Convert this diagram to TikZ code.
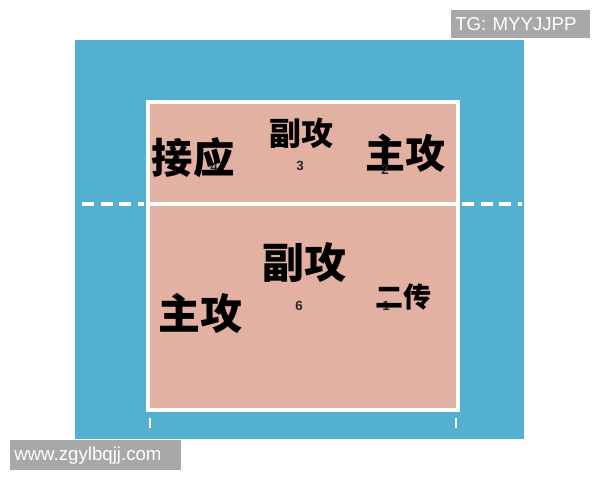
\documentclass[tikz,border=0pt]{standalone}
\usepackage{fontspec}
\setmainfont{Liberation Sans}
\newfontfamily\cjk{Noto Sans CJK SC}
\usetikzlibrary{positioning}
\definecolor{sea}{HTML}{54B0D1}
\definecolor{court}{HTML}{E3B1A1}
\definecolor{tag}{HTML}{A8A8A8}

\begin{document}
\begin{tikzpicture}[x=0.75pt, y=-0.75pt]
    \tikzstyle{role}=[inner sep=0pt, text=black, font=\cjk\bfseries]
    \tikzstyle{num}=[inner sep=0pt, text=black!85, font=\bfseries\fontsize{10}{10}\selectfont]
    \tikzstyle{courtline}=[white, line width=3pt]
    \tikzstyle{wm}=[fill=tag, text=white, inner sep=0pt, anchor=north west, font=\fontsize{14}{14}\selectfont]
    \useasboundingbox[fill=white] (0, 0) rectangle (600, 480);
    \fill[sea] (75, 40) rectangle (524, 439);
    \fill[court] (148, 102) rectangle (458, 410);
    \draw[courtline] (148, 102) rectangle (458, 410);
    \coordinate (netL) at (148, 204);
    \coordinate (netR) at (458, 204);
    \coordinate (dashL) at (82, 204);
    \coordinate (dashR) at (522, 204);
    \draw[courtline] (netL) -- (netR);
    \draw[courtline, dash pattern=on 9pt off 5pt] (dashL) -- ([xshift=-3pt]netL);
    \draw[courtline, dash pattern=on 9pt off 5pt] ([xshift=3pt]netR) -- (dashR);
    \coordinate (tickL) at (150, 418);
    \coordinate (tickR) at (456, 418);
    \draw[white, line width=2.2pt] (tickL) -- ++(0, 10);
    \draw[white, line width=2.2pt] (tickR) -- ++(0, 10);
    % top half
    \node[num]  (n4)  at (214, 167) {4};
    \node[role, font=\cjk\bfseries\fontsize{31}{31}\selectfont] (oppo) at (193, 158) {接应};
    \node[role, font=\cjk\bfseries\fontsize{24}{24}\selectfont] (mid3) at (301, 133) {副攻};
    \node[num]  (n3)  at (300, 166) {3};
    \node[role, font=\cjk\bfseries\fontsize{30}{30}\selectfont] (out2) at (405, 153) {主攻};
    \node[num]  (n2)  at (385, 170) {2};
    % bottom half
    \node[role, font=\cjk\bfseries\fontsize{31.5}{31.5}\selectfont] (mid6) at (304, 262) {副攻};
    \node[num]  (n6)  at (299, 306) {6};
    \node[role, font=\cjk\bfseries\fontsize{31.5}{31.5}\selectfont] (out5) at (200, 313) {主攻};
    \node[num]  (n1)  at (386, 306) {1};
    \node[role, font=\cjk\bfseries\fontsize{21}{21}\selectfont] (set1) at (403, 297) {二传};
    % watermarks
    \node[wm, minimum width=104pt, minimum height=21pt, text width=98pt, align=left] (tg) at (451, 10) {TG: MYYJJPP};
    \node[wm, minimum width=128pt, minimum height=22.5pt, text width=122pt, align=left] (site) at (10, 440) {www.zgylbqjj.com};
\end{tikzpicture}
\end{document}
